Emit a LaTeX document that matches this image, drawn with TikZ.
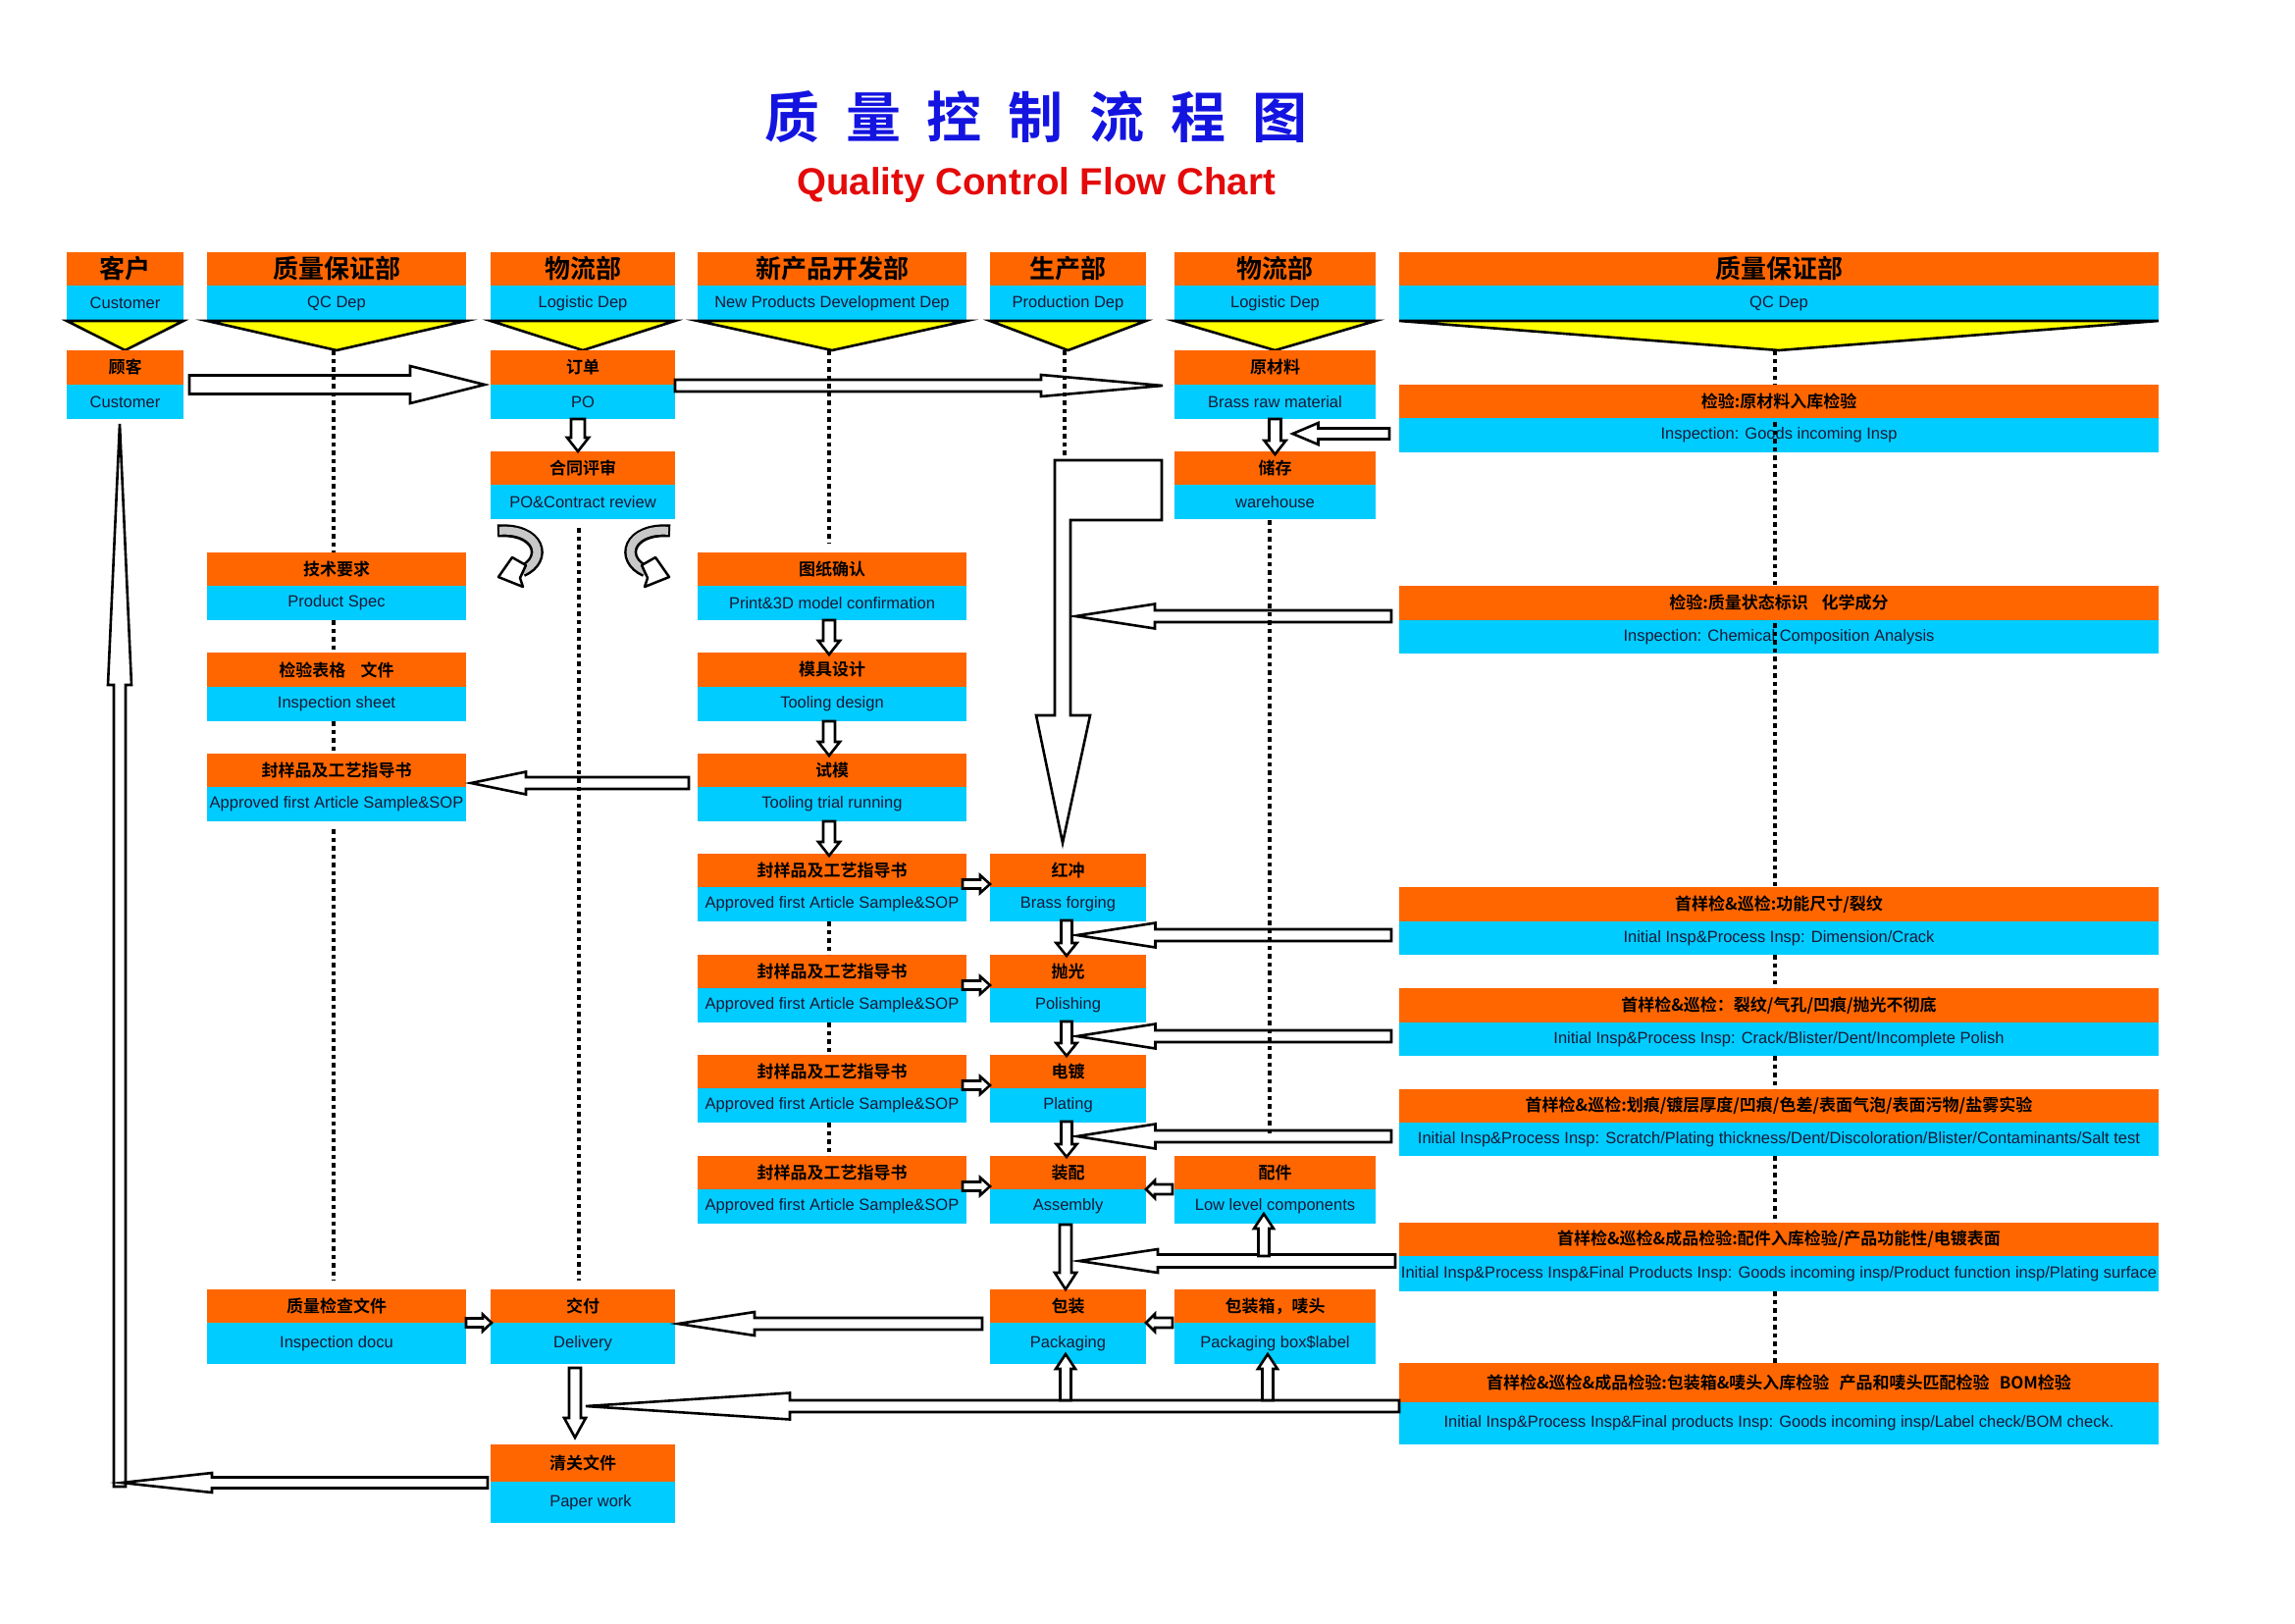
\documentclass[tikz,border=0pt]{standalone}
\usepackage{fontspec}
\setmainfont{Liberation Sans}
\newfontfamily\cjk{Noto Sans CJK SC}[BoldFont={Noto Sans CJK SC Bold}]
\usetikzlibrary{calc}
\definecolor{qorange}{RGB}{255,102,0}
\definecolor{qcyan}{RGB}{0,204,255}
\definecolor{qyellow}{RGB}{255,255,0}
\definecolor{qblue}{RGB}{20,20,225}
\definecolor{qred}{RGB}{228,10,10}
\definecolor{qtext}{RGB}{25,25,55}
\definecolor{qgray}{RGB}{200,200,200}
\tikzset{
 opart/.style={fill=qorange, inner sep=0pt, outer sep=0pt, text=black, font=\cjk\bfseries\fontsize{17pt}{20pt}\selectfont},
 cpart/.style={fill=qcyan, inner sep=0pt, outer sep=0pt, text=qtext, font=\fontsize{16.5pt}{19pt}\selectfont},
 hopart/.style={opart, font=\cjk\bfseries\fontsize{26pt}{30pt}\selectfont},
 blockarrow/.style={draw=black, fill=white, line width=2.6pt, line join=miter},
 dotline/.style={line width=4.5pt, dash pattern=on 4.5pt off 4pt},
 tri/.style={fill=qyellow, draw=black, line width=2.6pt, line join=miter},
 bandout/.style={line width=13pt, draw=black},
 bandin/.style={line width=8pt, draw=qgray, shorten <=2pt},
 curvehead/.style={draw=black, fill=white, line width=2.5pt, line join=round},
}
% name, x, y, width, orange height, cyan height, chinese, english
\newcommand{\flowbox}[8]{%
  \node[opart, minimum width=#4pt, minimum height=#5pt, anchor=north west] (#1-cn) at (#2,#3) {#7};
  \node[cpart, minimum width=#4pt, minimum height=#6pt, anchor=north west] (#1-en) at (#2,{#3+#5}) {#8};
}
% name, x, width, chinese, english
\newcommand{\headbox}[5]{%
  \node[hopart, minimum width=#3pt, minimum height=34pt, anchor=north west] (#1-cn) at (#2,257) {#4};
  \node[cpart, minimum width=#3pt, minimum height=36pt, anchor=north west] (#1-en) at (#2,291) {#5};
  \draw[tri] (#1-en.south west) -- (#1-en.south east) -- ($(#1-en.south)+(0,30)$) -- cycle;
}
% start, tip, shaft half width, head half width, head length
\newcommand{\blockarr}[5]{%
  \coordinate (ba-s) at #1;
  \coordinate (ba-t) at #2;
  \coordinate (ba-h) at ($(ba-t)!#5!(ba-s)$);
  \draw[blockarrow] ($(ba-s)!#3!90:(ba-t)$) -- ($(ba-h)!#3!-90:(ba-s)$) -- ($(ba-h)!#4!-90:(ba-s)$) -- (ba-t) -- ($(ba-h)!#4!90:(ba-s)$) -- ($(ba-h)!#3!90:(ba-s)$) -- ($(ba-s)!#3!-90:(ba-t)$) -- cycle;
}
\begin{document}
\begin{tikzpicture}[x=1pt, y=-1pt]
\fill[white] (0,0) rectangle (2339,1654);
\useasboundingbox (0,0) rectangle (2339,1654);

% titles
\node[font=\cjk\bfseries\fontsize{56pt}{60pt}\selectfont, text=qblue] (title) at (1056,119) {质\hspace{27pt}量\hspace{27pt}控\hspace{27pt}制\hspace{27pt}流\hspace{27pt}程\hspace{27pt}图};
\node[font=\bfseries\fontsize{38.5pt}{44pt}\selectfont, text=qred, anchor=base] (subtitle) at (1056,198) {Quality Control Flow Chart};

% column headers
\headbox{h1}{68}{119}{客户}{Customer}
\headbox{h2}{211}{264}{质量保证部}{QC Dep}
\headbox{h3}{500}{188}{物流部}{Logistic Dep}
\headbox{h4}{711}{274}{新产品开发部}{New Products Development Dep}
\headbox{h5}{1009}{159}{生产部}{Production Dep}
\headbox{h6}{1197}{205}{物流部}{Logistic Dep}
\headbox{h7}{1426}{774}{质量保证部}{QC Dep}

% process boxes
\flowbox{cust}{68}{357}{119}{35}{35}{顾客}{Customer}
\flowbox{po}{500}{357}{188}{35}{35}{订单}{PO}
\flowbox{raw}{1197}{357}{205}{35}{35}{原材料}{Brass raw material}
\flowbox{review}{500}{460}{188}{34}{35}{合同评审}{PO\&Contract review}
\flowbox{store}{1197}{460}{205}{34}{35}{储存}{warehouse}
\flowbox{spec}{211}{563}{264}{34}{35}{技术要求}{Product Spec}
\flowbox{print}{711}{563}{274}{34}{35}{图纸确认}{Print\&3D model confirmation}
\flowbox{sheet}{211}{665}{264}{35}{35}{检验表格\hspace{0.9em}文件}{Inspection sheet}
\flowbox{tool}{711}{665}{274}{35}{35}{模具设计}{Tooling design}
\flowbox{sopqc}{211}{768}{264}{34}{35}{封样品及工艺指导书}{Approved first Article Sample\&SOP}
\flowbox{trial}{711}{768}{274}{34}{35}{试模}{Tooling trial running}
\flowbox{sopa}{711}{870}{274}{34}{35}{封样品及工艺指导书}{Approved first Article Sample\&SOP}
\flowbox{forge}{1009}{870}{159}{34}{35}{红冲}{Brass forging}
\flowbox{sopb}{711}{973}{274}{34}{35}{封样品及工艺指导书}{Approved first Article Sample\&SOP}
\flowbox{polish}{1009}{973}{159}{34}{35}{抛光}{Polishing}
\flowbox{sopc}{711}{1075}{274}{34}{35}{封样品及工艺指导书}{Approved first Article Sample\&SOP}
\flowbox{plate}{1009}{1075}{159}{34}{35}{电镀}{Plating}
\flowbox{sopd}{711}{1178}{274}{34}{35}{封样品及工艺指导书}{Approved first Article Sample\&SOP}
\flowbox{assy}{1009}{1178}{159}{34}{35}{装配}{Assembly}
\flowbox{comp}{1197}{1178}{205}{34}{35}{配件}{Low level components}
\flowbox{docu}{211}{1314}{264}{34}{42}{质量检查文件}{Inspection docu}
\flowbox{deliv}{500}{1314}{188}{34}{42}{交付}{Delivery}
\flowbox{pack}{1009}{1314}{159}{34}{42}{包装}{Packaging}
\flowbox{pbox}{1197}{1314}{205}{34}{42}{包装箱，唛头}{Packaging box\$label}
\flowbox{paper}{500}{1472}{188}{38}{42}{清关文件}{\hspace*{16pt}Paper work}

% QC inspection boxes
\flowbox{q1}{1426}{392}{774}{34}{35}{检验:原材料入库检验}{Inspection: Goods incoming Insp}
\flowbox{q2}{1426}{597}{774}{35}{34}{检验:质量状态标识\hspace{0.8em}化学成分}{Inspection: Chemical Composition Analysis}
\flowbox{q3}{1426}{904}{774}{35}{34}{首样检\&巡检:功能尺寸/裂纹}{Initial Insp\&Process Insp: Dimension/Crack}
\flowbox{q4}{1426}{1007}{774}{35}{34}{首样检\&巡检：裂纹/气孔/凹痕/抛光不彻底}{Initial Insp\&Process Insp: Crack/Blister/Dent/Incomplete Polish}
\flowbox{q5}{1426}{1110}{774}{34}{34}{首样检\&巡检:划痕/镀层厚度/凹痕/色差/表面气泡/表面污物/盐雾实验}{Initial Insp\&Process Insp: Scratch/Plating thickness/Dent/Discoloration/Blister/Contaminants/Salt test}
\flowbox{q6}{1426}{1246}{774}{34}{36}{首样检\&巡检\&成品检验:配件入库检验/产品功能性/电镀表面}{Initial Insp\&Process Insp\&Final Products Insp: Goods incoming insp/Product function insp/Plating surface}
\flowbox{q7}{1426}{1389}{774}{40}{43}{首样检\&巡检\&成品检验:包装箱\&唛头入库检验\hspace{0.6em}产品和唛头匹配检验\hspace{0.6em}BOM检验}{Initial Insp\&Process Insp\&Final products Insp: Goods incoming insp/Label check/BOM check.}

% block arrows
\blockarr{($(cust-cn.south east)+(6,0)$)}{($(po-cn.south west)+(-6,0)$)}{9.5pt}{19pt}{76pt}
\blockarr{($(po-cn.south east)+(0,1)$)}{($(raw-cn.south west)+(-12,1)$)}{6pt}{11pt}{124pt}
\blockarr{($(po-en.south)+(-5,0)$)}{($(review-cn.north)+(-5,0)$)}{7pt}{11pt}{14pt}
\blockarr{(raw-en.south)}{($(store-cn.north)+(0,3)$)}{6pt}{11pt}{14pt}
\blockarr{($(q1-en.west)+(-10,-1.5)$)}{($(raw-en.south)+(18,15)$)}{5.5pt}{11pt}{26pt}
\blockarr{($(q2-cn.south west)+(-8,-4)$)}{($(q2-cn.south west)+(-330,-4)$)}{6pt}{12.5pt}{81pt}
\blockarr{($(q3-en.west)+(-8,-3)$)}{($(forge-en.south)+(9,14)$)}{6pt}{12.5pt}{80pt}
\blockarr{($(q4-en.west)+(-8,-3)$)}{($(polish-en.south)+(9,14)$)}{6pt}{12.5pt}{80pt}
\blockarr{($(q5-en.west)+(-8,-3)$)}{($(plate-en.south)+(9,14)$)}{6pt}{12.5pt}{80pt}
\blockarr{($(q6-cn.south west)+(-4,5)$)}{($(assy-en.south)+(11.5,38)$)}{6.5pt}{12pt}{80pt}
\blockarr{($(q7-cn.south west)+(0,4)$)}{($(deliv-en.south)+(3,43)$)}{6pt}{13.5pt}{208pt}
\blockarr{($(comp-en.south)+(-11.5,33)$)}{($(comp-en.south)+(-11.5,-10)$)}{5.5pt}{10pt}{15pt}
\blockarr{($(pack-en.south)+(-2.5,37)$)}{($(pack-en.south)+(-2.5,-10)$)}{5.5pt}{10pt}{15pt}
\blockarr{($(pbox-en.south)+(-7.5,37)$)}{($(pbox-en.south)+(-7.5,-10)$)}{5.5pt}{10pt}{15pt}
\blockarr{($(forge-en.south)+(-1.5,-1)$)}{($(polish-cn.north)+(-1.5,1)$)}{5.5pt}{10.5pt}{13pt}
\blockarr{($(polish-en.south)+(-1.5,-1)$)}{($(plate-cn.north)+(-1.5,1)$)}{5.5pt}{10.5pt}{13pt}
\blockarr{($(plate-en.south)+(-1.5,-1)$)}{($(assy-cn.north)+(-1.5,1)$)}{5.5pt}{10.5pt}{13pt}
\blockarr{($(assy-en.south)+(-2.5,1)$)}{($(pack-cn.north)+(-2.5,0)$)}{6pt}{11pt}{17pt}
\blockarr{($(print-en.south)+(-3,0)$)}{($(tool-cn.north)+(-3,2)$)}{6pt}{11pt}{14pt}
\blockarr{($(tool-en.south)+(-3,0)$)}{($(trial-cn.north)+(-3,2)$)}{6pt}{11pt}{14pt}
\blockarr{($(trial-en.south)+(-3,0)$)}{($(sopa-cn.north)+(-3,2)$)}{6pt}{11pt}{14pt}
\blockarr{($(deliv-en.south)+(-8,4)$)}{($(paper-cn.north)+(-8,-7)$)}{6pt}{11pt}{20pt}
\blockarr{($(sopa-cn.south east)+(-4,-3)$)}{($(forge-cn.south west)+(0,-3)$)}{4.5pt}{9pt}{10pt}
\blockarr{($(sopb-cn.south east)+(-4,-3)$)}{($(polish-cn.south west)+(0,-3)$)}{4.5pt}{9pt}{10pt}
\blockarr{($(sopc-cn.south east)+(-4,-3)$)}{($(plate-cn.south west)+(0,-3)$)}{4.5pt}{9pt}{10pt}
\blockarr{($(sopd-cn.south east)+(-4,-3)$)}{($(assy-cn.south west)+(0,-3)$)}{4.5pt}{9pt}{10pt}
\blockarr{($(comp-cn.south west)+(-2,0)$)}{(assy-cn.south east)}{5pt}{9pt}{9pt}
\blockarr{($(pbox-cn.south west)+(-2,0)$)}{(pack-cn.south east)}{5pt}{9pt}{9pt}
\blockarr{(docu-cn.south east)}{($(deliv-cn.south west)+(1,0)$)}{4.5pt}{8.5pt}{9pt}
\blockarr{($(pack-cn.south west)+(-8,1)$)}{($(deliv-cn.south east)+(3,1)$)}{6pt}{12pt}{78pt}
\blockarr{($(trial-cn.south west)+(-9,-4)$)}{($(sopqc-cn.south east)+(5,-4)$)}{6pt}{11.5pt}{56pt}
\blockarr{($(cust-en.south)+(-5.5,1088)$)}{($(cust-en.south)+(-5.5,5)$)}{6pt}{12pt}{266pt}
\blockarr{($(paper-cn.south west)+(-3,1)$)}{($(cust-en.south)+(-3.5,1084)$)}{5.5pt}{10pt}{92pt}

% bent arrow from production header down to brass forging
\draw[blockarrow] (1075,469) -- (1184,469) -- (1184,530) -- (1091,530) -- (1091,729) -- (1111,729) -- (1083,859) -- (1056,729) -- (1075,729) -- cycle;

% curved arrows beside contract review
\draw[bandout] (507,541) .. controls (550,538) and (559,570) .. (532,582);
\draw[bandin] (507,541) .. controls (550,538) and (559,570) .. (532,582);
\draw[curvehead] (522,568) -- (508,588) -- (533,598) -- (530,589) -- (536,576) -- cycle;
\draw[bandout] (683,541) .. controls (640,538) and (631,570) .. (658,582);
\draw[bandin] (683,541) .. controls (640,538) and (631,570) .. (658,582);
\draw[curvehead] (668,568) -- (682,588) -- (657,598) -- (660,589) -- (654,576) -- cycle;

% dotted lines
\draw[dotline] (340,357) -- (340,563);
\draw[dotline] (340,632) -- (340,665);
\draw[dotline] (340,735) -- (340,768);
\draw[dotline] (340,845) -- (340,1305);
\draw[dotline] (590,538) -- (590,1305);
\draw[dotline] (845,357) -- (845,553);
\draw[dotline] (845,939) -- (845,973);
\draw[dotline] (845,1042) -- (845,1075);
\draw[dotline] (845,1144) -- (845,1178);
\draw[dotline] (1085,357) -- (1085,469);
\draw[dotline] (1294,530) -- (1294,1155);
\draw[dotline] (1809,357) -- (1809,392);
\draw[dotline] (1809,430) -- (1809,597);
\draw[dotline] (1809,635) -- (1809,904);
\draw[dotline] (1809,973) -- (1809,1007);
\draw[dotline] (1809,1076) -- (1809,1110);
\draw[dotline] (1809,1178) -- (1809,1246);
\draw[dotline] (1809,1316) -- (1809,1389);
\end{tikzpicture}
\end{document}
